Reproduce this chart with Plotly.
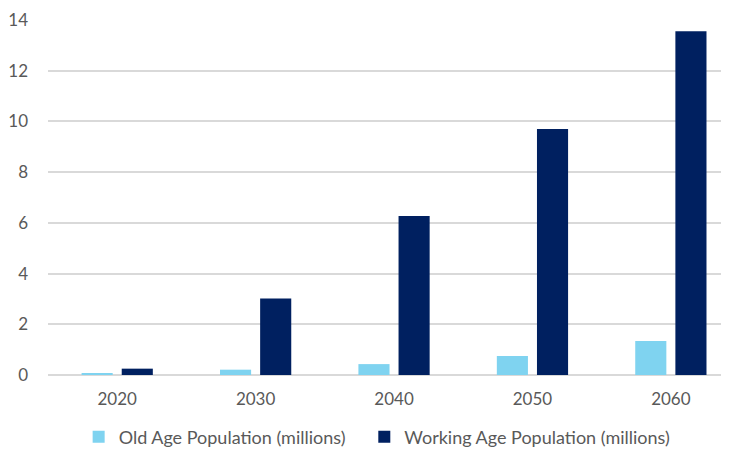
import plotly.graph_objects as go

years = ["2020", "2030", "2040", "2050", "2060"]
old_age = [0.05, 0.21, 0.43, 0.75, 1.34]
working_age = [0.25, 3.02, 6.27, 9.70, 13.56]
y_ticks = [0, 2, 4, 6, 8, 10, 12, 14]

fig = go.Figure()
fig.add_trace(go.Bar(x=years, y=old_age, name="Old Age Population (millions)\u00a0\u00a0\u00a0",
                     marker=dict(color="#7FD3F0", line=dict(width=0))))
fig.add_trace(go.Bar(x=years, y=working_age, name="Working Age Population (millions)",
                     marker=dict(color="#002060", line=dict(width=0))))

font_family = "Lato, 'Open Sans', sans-serif"
fig.update_layout(
    width=721, height=441,
    margin=dict(l=40, r=0, t=12, b=74, pad=0, autoexpand=False),
    paper_bgcolor="white", plot_bgcolor="white",
    barmode="group", bargap=0.42, bargroupgap=0.225,
    font=dict(family=font_family, size=17, color="#595959"),
    showlegend=True,
    legend=dict(orientation="h", x=0.045, y=-0.175, xanchor="left", yanchor="middle",
                font=dict(size=18, color="#595959"), bgcolor="rgba(0,0,0,0)"),
    xaxis=dict(type="category", range=[-0.5, 4.42], showgrid=False, showline=False,
               ticks="", tickfont=dict(size=17, color="#595959"), ticklabelstandoff=12),
    yaxis=dict(range=[0, 14], tickvals=y_ticks, showgrid=True, gridcolor="#D9D9D9",
               gridwidth=1.5, zeroline=True, zerolinecolor="#D9D9D9", zerolinewidth=1.5,
               showline=False, ticks="", tickfont=dict(size=17, color="#595959"),
               ticklabelstandoff=19),
)

fig.write_html("out.html")
